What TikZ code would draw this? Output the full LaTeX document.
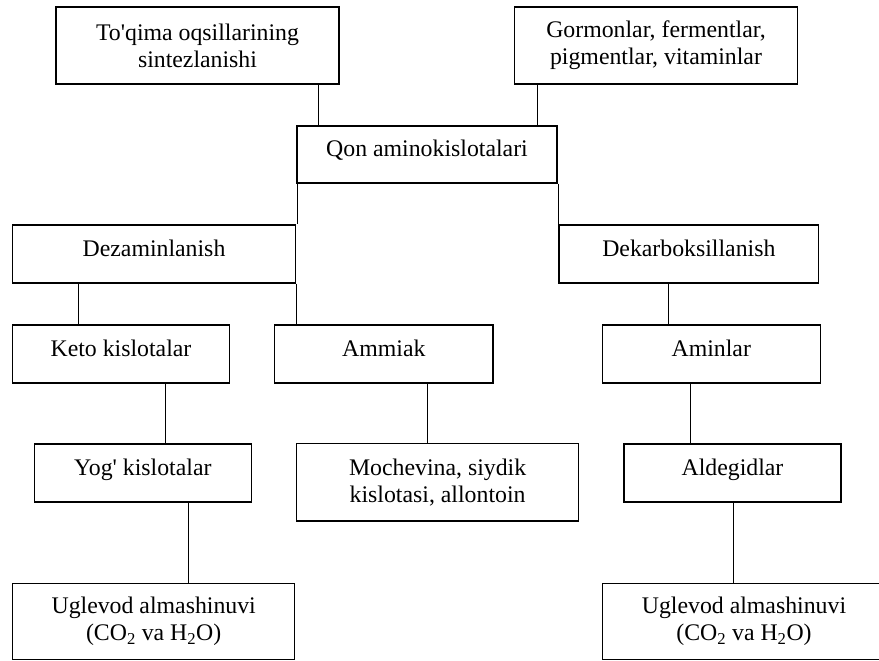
\documentclass[tikz,border=0pt]{standalone}
\usepackage{fontspec}
\newfontfamily\ttnr{Liberation Serif}
\begin{document}
\begin{tikzpicture}[x=1pt,y=-1pt,
  box/.style={draw, line width=1.1pt, inner sep=0pt, align=center,
    font=\ttnr\fontsize{23.8}{27}\selectfont},
  oneline/.style={box, text height=14pt, text depth=10pt},
  link/.style={line width=1pt}]
\clip (0,0) rectangle (879,661);
\useasboundingbox (0,0) rectangle (879,661);
% boxes
\node[box, minimum width=283pt, minimum height=77pt] (b1) at (197.5,45.5) {To'qima oqsillarining\\sintezlanishi};
\node[box, minimum width=282.6pt, minimum height=77pt] (b2) at (656,45.5) {Gormonlar, fermentlar,\\pigmentlar, vitaminlar};
\node[oneline, minimum width=260pt, minimum height=57pt] (qon) at (427,154.5) {Qon aminokislotalari};
\node[oneline, minimum width=282.6pt, minimum height=58pt] (dez) at (154,254) {Dezaminlanish};
\node[oneline, minimum width=259.7pt, minimum height=58pt] (dek) at (688.85,254) {Dekarboksillanish};
\node[oneline, minimum width=216.6pt, minimum height=58pt] (keto) at (121,354) {Keto kislotalar};
\node[oneline, minimum width=218.3pt, minimum height=58pt] (amm) at (383.85,354) {Ammiak};
\node[oneline, minimum width=218pt, minimum height=58pt] (amin) at (711.3,354) {Aminlar};
\node[oneline, minimum width=217pt, minimum height=58pt] (yog) at (142.8,473) {Yog' kislotalar};
\node[box, minimum width=282.2pt, minimum height=77.5pt] (moch) at (437.6,482.25) {Mochevina, siydik\\kislotasi, allontoin};
\node[oneline, minimum width=217pt, minimum height=58pt] (ald) at (732.5,473) {Aldegidlar};
\node[box, minimum width=282pt, minimum height=76pt] (ug1) at (153.7,621.3) {Uglevod almashinuvi\\(CO\textsubscript{2} va H\textsubscript{2}O)};
\node[box, minimum width=282.6pt, minimum height=76pt] (ug2) at (744,621.3) {Uglevod almashinuvi\\(CO\textsubscript{2} va H\textsubscript{2}O)};
% connectors
\draw[link] (b1.south -| 318.7,0) -- (qon.north -| 318.7,0);
\draw[link] (b2.south -| 537,0) -- (qon.north -| 537,0);
\draw[link] (qon.south -| 297,0) -- (dez.north -| 297,0);
\draw[link] (qon.south -| 558.5,0) -- (dek.north -| 558.5,0);
\draw[link] (dez.south -| 78.7,0) -- (keto.north -| 78.7,0);
\draw[link] (dez.south -| 296.7,0) -- (amm.north -| 296.7,0);
\draw[link] (dek.south -| 668,0) -- (amin.north -| 668,0);
\draw[link] (keto.south -| 165.7,0) -- (yog.north -| 165.7,0);
\draw[link] (amm.south -| 427.7,0) -- (moch.north -| 427.7,0);
\draw[link] (amin.south -| 690,0) -- (ald.north -| 690,0);
\draw[link] (yog.south -| 188.3,0) -- (ug1.north -| 188.3,0);
\draw[link] (ald.south -| 733.3,0) -- (ug2.north -| 733.3,0);
\end{tikzpicture}
\end{document}
